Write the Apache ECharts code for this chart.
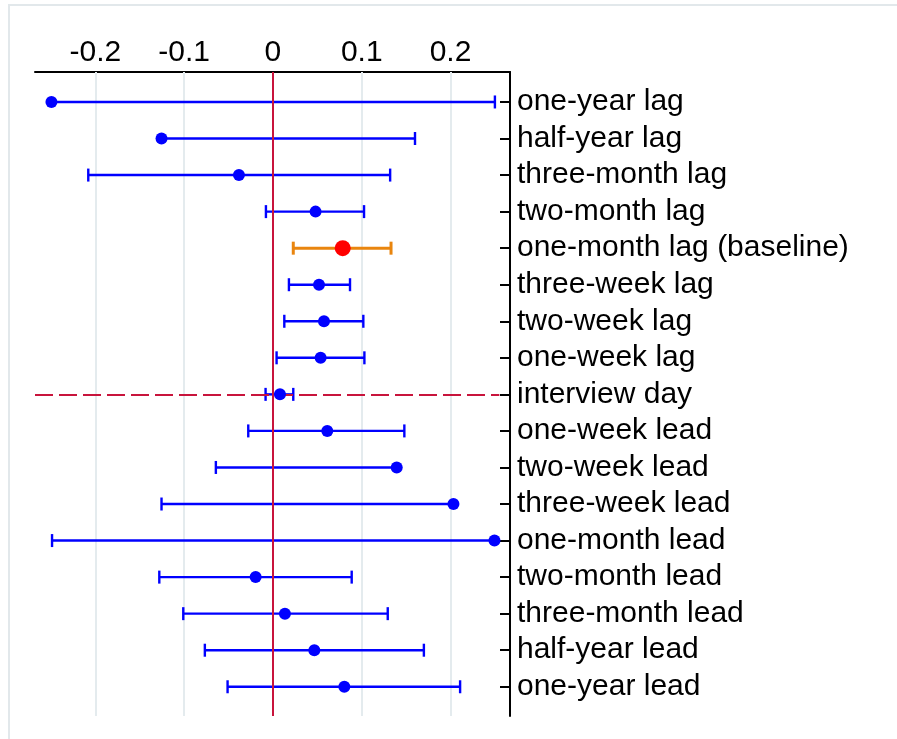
<!DOCTYPE html>
<html>
<head>
<meta charset="utf-8">
<script src="https://cdn.jsdelivr.net/npm/echarts@6/dist/echarts.min.js"></script>
<style>
html,body{margin:0;padding:0;background:#fff;}
#chart{width:897px;height:739px;}
</style>
</head>
<body>
<div id="chart"></div>
<script>
// ---- data ----
var categories = ["one-year lag","half-year lag","three-month lag","two-month lag","one-month lag (baseline)","three-week lag","two-week lag","one-week lag","interview day","one-week lead","two-week lead","three-week lead","one-month lead","two-month lead","three-month lead","half-year lead","one-year lead"];
var estimates = [-0.2495,-0.1255,-0.0383,0.048,0.0786,0.0519,0.0575,0.0537,0.0079,0.0612,0.1394,0.2033,0.2495,-0.0195,0.0135,0.0466,0.0804];
var lowerCI  = [-0.2495,-0.1255,-0.208,-0.0079,0.0229,0.018,0.0128,0.0041,-0.0083,-0.0278,-0.0643,-0.1255,-0.2488,-0.128,-0.101,-0.0767,-0.0511];
var upperCI  = [0.250,0.160,0.132,0.1026,0.133,0.0868,0.1018,0.103,0.0229,0.148,0.1394,0.2033,0.2495,0.0887,0.1293,0.170,0.2108];
var xTicks = [-0.2,-0.1,0,0.1,0.2];
var xTickLabels = ["-0.2","-0.1","0","0.1","0.2"];
var baselineIndex = 4;
var interviewIndex = 8;

var rows = categories.map(function(c,i){return i+1;});
var barData = categories.map(function(c,i){return [lowerCI[i],estimates[i],upperCI[i],i+1];});
var dotData = [], baseDot = [];
categories.forEach(function(c,i){
  if(i===baselineIndex) baseDot.push([estimates[i], i+1]);
  else dotData.push([estimates[i], i+1]);
});

var FONT = '"Liberation Sans", Arial, sans-serif';
var chart = echarts.init(document.getElementById('chart'), null, {renderer:'canvas'});
chart.setOption({
  animation:false,
  backgroundColor:'#fff',
  graphic:[{type:'rect',shape:{x:9,y:5,width:1000,height:1000},style:{fill:'none',stroke:'#e2e8eb',lineWidth:2},z:-10}],
  grid:{left:35,right:387,top:72,bottom:23,containLabel:false},
  xAxis:{
    type:'value',position:'top',min:-0.268,max:0.267,
    axisLine:{show:true,onZero:false,lineStyle:{color:'#000',width:2}},
    axisTick:{show:true,inside:true,length:12,lineStyle:{color:'#000',width:2},customValues:xTicks},
    axisLabel:{show:true,customValues:xTicks,margin:4,fontSize:30,color:'#000',fontFamily:FONT,
      formatter:function(v){var k=xTicks.indexOf(Math.round(v*10)/10);return k>=0?xTickLabels[k]:'';}},
    splitLine:{show:false}
  },
  yAxis:{
    type:'value',position:'right',inverse:true,min:0.18,max:17.8,
    axisLine:{show:true,onZero:false,lineStyle:{color:'#000',width:2}},
    axisTick:{show:true,inside:true,length:10,lineStyle:{color:'#000',width:2},customValues:rows},
    axisLabel:{show:true,customValues:rows,margin:7,fontSize:30,color:'#000',fontFamily:FONT,padding:[4,0,0,0],
      formatter:function(v){return categories[Math.round(v)-1]||'';}},
    splitLine:{show:false}
  },
  series:[
    {type:'scatter',data:[],z:1,silent:true,
     markLine:{z:1,silent:true,symbol:'none',label:{show:false},animation:false,
       lineStyle:{color:'#e4ebee',width:2,type:'solid'},
       data:xTicks.map(function(t){return {xAxis:t};})}},
    {type:'custom',z:2,silent:true,data:barData,encode:{x:[0,1,2],y:3},
     renderItem:function(params,api){
       var lo=api.value(0),es=api.value(1),hi=api.value(2),r=api.value(3);
       var pLo=api.coord([lo,r]),pHi=api.coord([hi,r]);
       var isBase=(params.dataIndex===baselineIndex);
       var col=isBase?'#e9850e':'#0000ff', w=isBase?3:2.4, h=6.5;
       var ch=[{type:'line',shape:{x1:pLo[0],y1:pLo[1],x2:pHi[0],y2:pHi[1]},style:{stroke:col,lineWidth:w}}];
       if(lo!==es) ch.push({type:'line',shape:{x1:pLo[0],y1:pLo[1]-h,x2:pLo[0],y2:pLo[1]+h},style:{stroke:col,lineWidth:w}});
       if(hi!==es) ch.push({type:'line',shape:{x1:pHi[0],y1:pHi[1]-h,x2:pHi[0],y2:pHi[1]+h},style:{stroke:col,lineWidth:w}});
       return {type:'group',children:ch};
     }},
    {type:'scatter',data:[],z:3,silent:true,
     markLine:{z:3,silent:true,symbol:'none',label:{show:false},animation:false,
       data:[
         {xAxis:0,lineStyle:{color:'#c8143c',width:2,type:'solid'}},
         [{coord:[-0.268,interviewIndex+1],lineStyle:{color:'#c8143c',width:2,type:[18,6]}},{coord:[0.255,interviewIndex+1]}]
       ]}},
    {type:'scatter',z:4,silent:true,data:dotData,symbol:'circle',symbolSize:12,itemStyle:{color:'#0000ff',opacity:1}},
    {type:'scatter',z:5,silent:true,data:baseDot,symbol:'circle',symbolSize:16,itemStyle:{color:'#ff0000',opacity:1}}
  ]
});
</script>
</body>
</html>
